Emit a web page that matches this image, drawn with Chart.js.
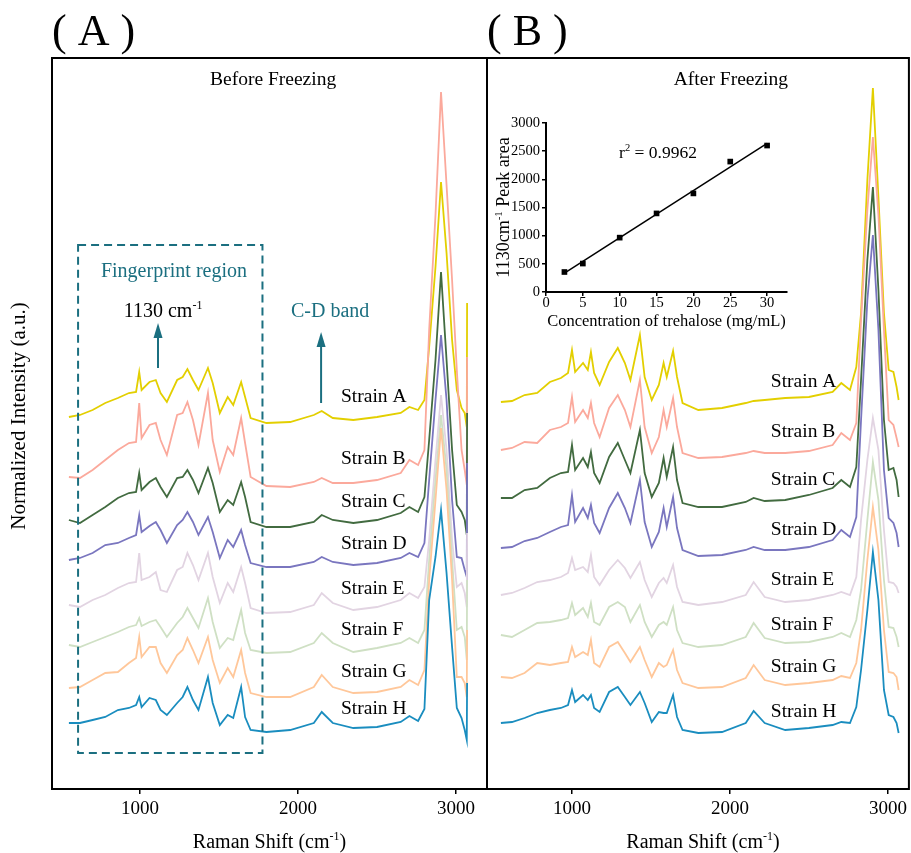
<!DOCTYPE html>
<html><head><meta charset="utf-8">
<script src="https://cdn.jsdelivr.net/npm/chart.js@4.4.1/dist/chart.umd.min.js"></script>
<style>
html,body{margin:0;padding:0;background:#fff;overflow:hidden}
#wrap{position:relative;width:911px;height:853px;background:#fff}
canvas{position:absolute}
</style></head><body>
<div id="wrap">
<canvas id="cA" width="497" height="853" style="left:0;top:0;width:497px;height:853px"></canvas>
<canvas id="cB" width="434" height="853" style="left:477px;top:0;width:434px;height:853px"></canvas>
<canvas id="cI" width="306" height="222" style="left:494px;top:110px;width:306px;height:222px"></canvas>
</div>
<script>
// ---------------- data ----------------
const ramanTicks = [1000, 2000, 3000];
const strainNames = ['Strain A','Strain B','Strain C','Strain D','Strain E','Strain F','Strain G','Strain H'];

// Panel A: before freezing (Raman shift, cm-1)
const shiftsA = [550,620,700,780,860,930,975,995,1010,1060,1100,1130,1170,1235,1270,1300,1335,1370,1430,1460,1505,1555,1590,1640,1665,1700,1800,1950,2100,2150,2220,2350,2500,2650,2705,2760,2800,2830,2870,2905,2940,2975,3005,3035,3055,3068,3070];
const beforeA = [372,374,379,386,391,396,397,417,399,407,409,396,387,409,412,420,409,399,421,406,376,392,384,407,392,371,366,367,374,378,371,369,372,376,382,379,389,442,522,607,536,449,399,381,376,362,486];
const beforeB = [312,311,319,329,339,346,347,386,351,364,366,349,334,374,376,387,369,344,396,349,317,342,334,371,346,312,303,302,307,311,306,306,309,316,329,324,339,459,574,697,604,509,419,339,319,304,432];
const beforeC = [269,266,274,282,291,296,297,316,299,307,311,302,292,311,312,319,309,296,321,306,277,289,284,307,292,267,262,262,267,274,269,266,269,276,282,277,292,349,429,517,429,339,284,277,269,254,376];
const beforeD = [229,231,236,244,246,251,254,274,257,263,267,259,246,264,269,277,267,254,272,257,231,249,242,259,244,226,222,222,227,232,227,224,226,231,236,232,246,309,389,454,389,289,232,231,219,212,326];
const beforeE = [184,182,189,194,201,206,207,236,209,212,217,199,197,219,222,236,224,209,236,212,186,206,197,222,206,181,176,177,184,196,186,179,182,189,196,191,202,249,329,394,339,249,202,206,196,182,256];
const beforeF = [144,142,147,152,157,162,164,171,163,167,169,162,152,166,172,181,171,161,191,167,141,151,149,179,156,139,136,137,146,156,146,137,141,146,151,146,159,229,309,374,319,229,159,162,152,129,209];
const beforeG = [101,102,109,116,117,126,131,152,132,142,142,126,116,134,139,151,139,126,152,129,106,121,112,139,116,96,92,92,102,114,102,96,97,102,109,104,119,209,289,361,299,209,112,112,106,92,159];
const beforeH = [66,66,69,72,79,81,84,92,82,91,89,79,74,86,92,102,89,79,112,86,64,74,71,102,72,59,57,59,66,77,66,61,62,67,73,68,80,189,232,279,216,142,81,71,59,49,106];

// Panel B: after freezing
const shiftsB = [550,620,700,780,860,930,975,1000,1020,1070,1100,1120,1140,1175,1235,1290,1335,1370,1430,1460,1505,1550,1580,1600,1640,1665,1700,1800,1950,2100,2150,2220,2350,2500,2650,2705,2760,2800,2830,2870,2905,2940,2975,3005,3035,3055,3068];
const afterA = [387,388,394,396,407,411,416,439,417,426,419,437,416,404,427,441,426,409,454,412,389,404,426,412,438,412,386,379,381,386,388,389,391,392,397,406,399,422,476,609,701,592,476,419,417,402,389];
const afterB = [339,341,347,346,359,362,366,392,367,379,371,386,366,352,381,394,379,362,409,362,336,352,379,362,391,362,336,331,332,336,338,336,336,338,344,356,349,366,469,579,652,574,459,369,364,351,342];
const afterC = [291,291,299,301,311,316,317,344,319,331,322,337,316,306,332,346,329,316,359,316,292,306,331,312,342,309,286,282,282,287,291,288,289,294,301,309,302,322,409,529,602,499,369,319,321,309,292];
const afterD = [241,242,248,251,257,262,264,294,267,281,271,284,266,256,281,296,281,266,309,267,242,257,281,262,292,261,239,233,234,239,242,239,239,242,249,259,252,272,369,489,554,459,319,271,266,256,242];
const afterE = [194,196,201,207,209,212,216,231,219,222,217,234,212,204,219,229,221,211,227,209,192,206,211,206,224,202,187,184,187,194,207,192,187,189,194,197,194,212,269,329,371,339,259,207,206,202,196];
const afterF = [154,152,159,166,167,169,171,186,174,181,172,186,167,164,182,187,182,167,184,167,152,164,167,164,182,159,146,142,144,152,166,151,146,147,152,156,152,169,199,269,327,289,209,162,161,152,142];
const afterG = [112,111,116,126,124,126,127,142,132,137,134,149,126,122,142,147,136,127,142,129,112,126,122,124,139,119,106,101,102,111,124,109,104,106,109,113,111,126,159,229,282,239,159,117,116,112,99];
const afterH = [66,67,71,76,79,81,84,99,87,94,89,94,81,77,97,102,92,84,97,86,67,77,76,76,94,72,59,56,57,66,78,66,59,61,64,67,66,82,119,179,237,189,99,74,72,66,56];

// Inset: calibration
const trehaloseConc = [2.5, 5, 10, 15, 20, 25, 30];
const peakArea = [355, 505, 965, 1395, 1750, 2315, 2600];
const fitConc = [2.5, 30];
const fitArea = [335, 2638];
const insetXTicks = [0, 5, 10, 15, 20, 25, 30];
const insetYTicks = [0, 500, 1000, 1500, 2000, 2500, 3000];

// ---------------- styles ----------------
const strainColors = ['#e3cf00','#fba99c','#426b40','#7a76bf','#e2d4e2','#cfe0c4','#ffc79a','#1a8dbf'];
const TEAL = '#1b6f80';
const FONT = "'Liberation Serif','Times New Roman',serif";
Chart.defaults.font.family = FONT;
Chart.defaults.color = '#000';

function drawParts(ctx, parts, x, base, size, color, align) {
  const sup = size * 0.6;
  const widths = parts.map(p => { ctx.font = (p.s ? sup : size) + 'px ' + FONT; return ctx.measureText(p.t).width; });
  const total = widths.reduce((a, b) => a + b, 0);
  let cx = align === 'center' ? x - total / 2 : (align === 'right' ? x - total : x);
  ctx.fillStyle = color; ctx.textAlign = 'left'; ctx.textBaseline = 'alphabetic';
  parts.forEach((p, i) => {
    ctx.font = (p.s ? sup : size) + 'px ' + FONT;
    ctx.fillText(p.t, cx, p.s ? base - size * 0.4 : base);
    cx += widths[i];
  });
}
function arrow(ctx, x, yBottom, yTip, color) {
  ctx.strokeStyle = color; ctx.lineWidth = 2;
  ctx.beginPath(); ctx.moveTo(x, yBottom); ctx.lineTo(x, yTip + 10); ctx.stroke();
  ctx.fillStyle = color; ctx.beginPath();
  ctx.moveTo(x, yTip); ctx.lineTo(x - 4.5, yTip + 15); ctx.lineTo(x + 4.5, yTip + 15); ctx.closePath(); ctx.fill();
}

const panelDecor = {
  id: 'panelDecor',
  afterDatasetsDraw(chart, args, o) {
    const ctx = chart.ctx, a = chart.chartArea;
    const X = v => chart.scales.x.getPixelForValue(v), Y = v => chart.scales.y.getPixelForValue(v);
    ctx.save();
    ctx.strokeStyle = '#000'; ctx.lineWidth = 2;
    ctx.strokeRect(a.left, a.top, a.right - a.left, a.bottom - a.top);
    drawParts(ctx, [{t: o.letter}], a.left, 45, 44, '#000', 'left');
    drawParts(ctx, [{t: o.title}], X(o.titleAt[0]), Y(o.titleAt[1]), 19.5, '#000', 'center');
    strainNames.forEach((n, i) => drawParts(ctx, [{t: n}], X(o.labelX), Y(o.labelY[i]) + 6.5, 19.5, '#000', 'left'));
    drawParts(ctx, [{t: 'Raman Shift (cm'}, {t: '-1', s: true}, {t: ')'}], (a.left + a.right) / 2 + o.xTitleShift, a.bottom + 59, 20, '#000', 'center');
    if (o.yTitle) {
      ctx.save(); ctx.translate(18, 416); ctx.rotate(-Math.PI / 2);
      drawParts(ctx, [{t: o.yTitle}], 0, 7, 21, '#000', 'center');
      ctx.restore();
    }
    if (o.fingerprint) {
      const b = o.fingerprint;
      ctx.strokeStyle = TEAL; ctx.lineWidth = 2; ctx.setLineDash([8, 5]);
      ctx.strokeRect(X(b[0]), Y(b[3]), X(b[1]) - X(b[0]), Y(b[2]) - Y(b[3]));
      ctx.setLineDash([]);
      drawParts(ctx, [{t: 'Fingerprint region'}], X(1215), Y(519) + 6.6, 20, TEAL, 'center');
      drawParts(ctx, [{t: '1130 cm'}, {t: '-1', s: true}], X(1146), Y(479) + 6.6, 20, '#000', 'center');
      arrow(ctx, X(1114), Y(421), Y(466), TEAL);
      drawParts(ctx, [{t: 'C-D band'}], X(2203), Y(479) + 6.6, 20, TEAL, 'center');
      arrow(ctx, X(2146), Y(386), Y(457), TEAL);
    }
    ctx.restore();
  }
};

function makeSets(shifts, seriesList) {
  return seriesList.map((vals, i) => ({
    label: strainNames[i],
    data: shifts.map((x, j) => ({x: x, y: vals[j]})),
    borderColor: strainColors[i], borderWidth: 1.8, pointRadius: 0, tension: 0, fill: false,
    order: seriesList.length - 1 - i
  }));
}

function mainOptions(xmin, xmax, padL, padR, decor) {
  return {
    responsive: false, animation: false, devicePixelRatio: 1,
    layout: { padding: { left: padL, right: padR, top: 58, bottom: 0 } },
    plugins: { legend: {display: false}, tooltip: {enabled: false}, panelDecor: decor },
    scales: {
      x: {
        type: 'linear', min: xmin, max: xmax,
        afterBuildTicks: s => { s.ticks = ramanTicks.map(v => ({value: v})); },
        afterFit: s => { s.height = 64; },
        border: {display: false},
        grid: {display: true, drawOnChartArea: false, drawTicks: true, tickLength: 5, color: '#000', lineWidth: 1.5},
        ticks: {color: '#000', font: {size: 19, lineHeight: 1.2}, padding: 4, maxRotation: 0, autoSkip: false, callback: v => String(v)},
        title: {display: false}
      },
      y: { display: false, min: 0, max: 731 }
    }
  };
}

new Chart(document.getElementById('cA'), {
  type: 'line',
  data: { datasets: makeSets(shiftsA, [beforeA, beforeB, beforeC, beforeD, beforeE, beforeF, beforeG, beforeH]) },
  options: mainOptions(443, 3196, 52, 10, {
    letter: '( A )', title: 'Before Freezing', titleAt: [1842, 704],
    labelX: 2272, labelY: [394, 332, 289, 247, 202, 161, 119, 82],
    xTitleShift: 0, yTitle: 'Normalized Intensity (a.u.)',
    fingerprint: [608, 1775, 36, 544]
  }),
  plugins: [panelDecor]
});

new Chart(document.getElementById('cB'), {
  type: 'line',
  data: { datasets: makeSets(shiftsB, [afterA, afterB, afterC, afterD, afterE, afterF, afterG, afterH]) },
  options: mainOptions(462, 3133, 10, 2, {
    letter: '( B )', title: 'After Freezing', titleAt: [2006, 704],
    labelX: 2259, labelY: [409, 359, 311, 261, 211, 166, 124, 79],
    xTitleShift: 5, yTitle: null, fingerprint: null
  }),
  plugins: [panelDecor]
});

const insetDecor = {
  id: 'insetDecor',
  afterDatasetsDraw(chart) {
    const ctx = chart.ctx, a = chart.chartArea;
    const X = v => chart.scales.x.getPixelForValue(v), Y = v => chart.scales.y.getPixelForValue(v);
    ctx.save();
    ctx.translate(a.left - 43, (a.top + a.bottom) / 2); ctx.rotate(-Math.PI / 2);
    drawParts(ctx, [{t: '1130cm'}, {t: '-1', s: true}, {t: ' Peak area'}], 0, 6, 18, '#000', 'center');
    ctx.restore();
    drawParts(ctx, [{t: 'r'}, {t: '2', s: true}, {t: ' = 0.9962'}], X(15.2), Y(2489) + 6, 17.5, '#000', 'center');
  }
};

const insetGrid = {display: true, drawOnChartArea: false, drawTicks: true, tickLength: 4, color: '#000', lineWidth: 1.5};
new Chart(document.getElementById('cI'), {
  type: 'scatter',
  data: { datasets: [
    { data: trehaloseConc.map((x, i) => ({x: x, y: peakArea[i]})), pointStyle: 'rect', pointRadius: 4,
      pointBackgroundColor: '#000', pointBorderColor: '#000', pointBorderWidth: 0, showLine: false },
    { data: fitConc.map((x, i) => ({x: x, y: fitArea[i]})), showLine: true, borderColor: '#000', borderWidth: 1.5, pointRadius: 0 }
  ]},
  options: {
    responsive: false, animation: false, devicePixelRatio: 1,
    layout: { padding: { left: 0, top: 13, right: 13, bottom: 0 } },
    plugins: { legend: {display: false}, tooltip: {enabled: false} },
    scales: {
      x: {
        type: 'linear', min: 0, max: 32.7,
        afterBuildTicks: s => { s.ticks = insetXTicks.map(v => ({value: v})); },
        afterFit: s => { s.height = 40; },
        border: {display: true, color: '#000', width: 2},
        grid: insetGrid,
        ticks: {color: '#000', font: {size: 14.5, lineHeight: 1}, padding: 0, maxRotation: 0, autoSkip: false, callback: v => String(v)},
        title: {display: true, text: 'Concentration of trehalose (mg/mL)', color: '#000', font: {size: 16.5}, padding: {top: 0, bottom: 0}}
      },
      y: {
        type: 'linear', min: 0, max: 3000,
        afterBuildTicks: s => { s.ticks = insetYTicks.map(v => ({value: v})); },
        afterFit: s => { s.width = 52; },
        border: {display: true, color: '#000', width: 2},
        grid: insetGrid,
        ticks: {color: '#000', font: {size: 14.5}, padding: 2, autoSkip: false, callback: v => String(v)}
      }
    }
  },
  plugins: [insetDecor]
});
</script></body></html>
